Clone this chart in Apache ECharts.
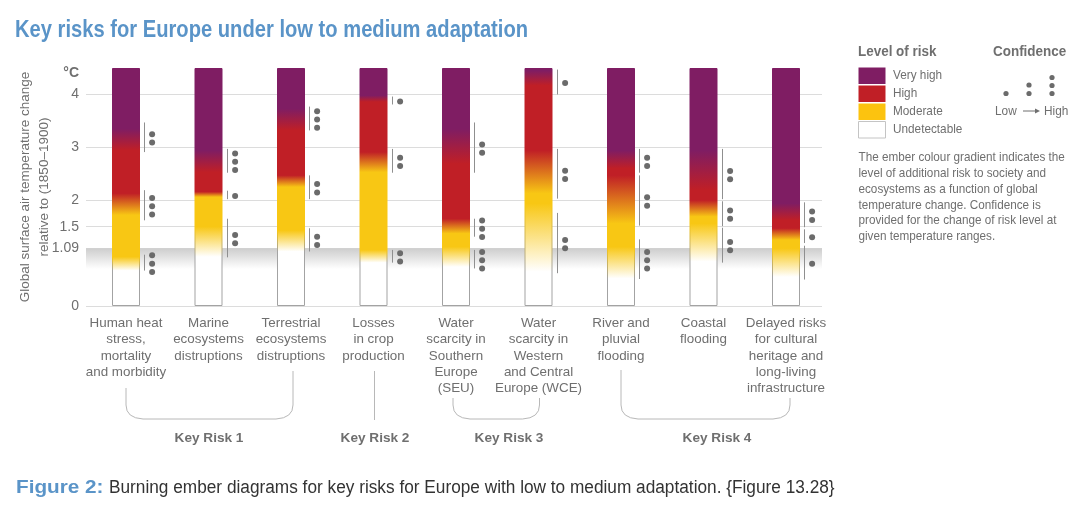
<!DOCTYPE html>
<html>
<head>
<meta charset="utf-8">
<style>
  html, body { margin: 0; padding: 0; background: #fff; }
  #chart { width: 1081px; height: 509px; }
</style>
<script src="https://cdn.jsdelivr.net/npm/echarts@6/dist/echarts.min.js"></script>
</head>
<body>
<div id="chart"></div>
<script>
const categories = [
  "Human heat\nstress,\nmortality\nand morbidity",
  "Marine\necosystems\ndistruptions",
  "Terrestrial\necosystems\ndistruptions",
  "Losses\nin crop\nproduction",
  "Water\nscarcity in\nSouthern\nEurope\n(SEU)",
  "Water\nscarcity in\nWestern\nand Central\nEurope (WCE)",
  "River and\npluvial\nflooding",
  "Coastal\nflooding",
  "Delayed risks\nfor cultural\nheritage and\nlong-living\ninfrastructure"
];
const yTicks = [0, 1.09, 1.5, 2, 3, 4];
const emberTop = [4.5, 4.5, 4.5, 4.5, 4.5, 4.5, 4.5, 4.5, 4.5];

// Temperatures (degC) where each ember changes colour
const whiteEnd    = [0.67, 0.93, 1.03, 0.82, 0.74, 0.65, 0.52, 0.84, 0.55];
const yellowStart = [0.93, 1.50, 1.43, 1.06, 1.12, 1.94, 1.12, 1.56, 1.09];
const yellowEnd   = [1.72, 2.06, 2.25, 2.53, 1.37, 2.13, 1.56, 1.69, 1.25];
const redStart    = [2.13, 2.16, 2.47, 2.91, 1.65, 2.94, 2.47, 2.00, 1.47];
const redEnd      = [2.94, 2.53, 3.32, 3.86, 2.69, 4.17, 2.60, 2.19, 1.62];
const purpleStart = [3.35, 2.94, 3.73, 3.98, 3.35, 4.45, 2.94, 2.94, 1.94];

// Confidence ranges: ember index, low, high, number of dots
const confEmber = [0, 0, 0, 1, 1, 1, 2, 2, 2, 3, 3, 3, 4, 4, 4, 5, 5, 5, 6, 6, 6, 7, 7, 7, 8, 8, 8];
const confLow   = [0.67, 1.62, 2.91, 0.92, 2.02, 2.52, 1.03, 2.02, 3.32, 0.82, 2.52, 3.81, 0.71, 1.31, 2.52, 0.62, 2.03, 4.00, 0.51, 1.52, 2.52, 0.82, 1.51, 2.02, 0.50, 1.19, 1.49];
const confHigh  = [0.97, 2.19, 3.47, 1.65, 2.18, 2.97, 1.47, 2.47, 3.77, 1.06, 2.97, 3.96, 1.06, 1.65, 3.47, 1.76, 2.97, 4.47, 1.26, 2.47, 2.97, 1.48, 1.98, 2.97, 1.14, 1.45, 1.96];
const confDots  = [3, 3, 2, 2, 1, 3, 2, 2, 3, 2, 2, 1, 3, 3, 2, 2, 2, 1, 3, 2, 2, 2, 2, 2, 1, 1, 2];

const riskLevels = ["Very high", "High", "Moderate", "Undetectable"];
const note = [
  "The ember colour gradient indicates the",
  "level of additional risk to society and",
  "ecosystems as a function of global",
  "temperature change. Confidence is",
  "provided for the change of risk level at",
  "given temperature ranges."
];

const PURPLE = "#7f1d63", RED = "#c01f26", YELLOW = "#f8c714", WHITE = "#ffffff";
const GREY = "#6f6f6f", DOT = "#6b6b6b", FRAME = "#a3a3a3", LINE = "#dcdcdc", BRACE = "#b8b8b8", BLUE = "#5a94c8";
const FONT = '"Liberation Sans", Arial, sans-serif';
const Y_MAX = 4.5;

function emberStops(i) {
  let at = t => 1 - t / Y_MAX;
  return [
    {offset: 0, color: PURPLE},
    {offset: at(purpleStart[i]), color: PURPLE},
    {offset: at(redEnd[i]), color: RED},
    {offset: at(redStart[i]), color: RED},
    {offset: at(yellowEnd[i]), color: YELLOW},
    {offset: at(yellowStart[i]), color: YELLOW},
    {offset: at(whiteEnd[i]), color: WHITE},
    {offset: 1, color: WHITE}
  ];
}

// Side lines follow the ember colour, and go grey only under the white part
function frameStops(i) {
  let stops = emberStops(i).slice(0, 6);
  let cut = 1 - whiteEnd[i] / Y_MAX;
  return stops.concat([{offset: cut, color: FRAME}, {offset: 1, color: FRAME}]);
}

function vertical(stops) {
  return {type: "linear", x: 0, y: 0, x2: 0, y2: 1, colorStops: stops};
}

function renderConfidence(params, api) {
  let low = api.coord([api.value(0), api.value(1)]);
  let high = api.coord([api.value(0), api.value(2)]);
  let n = api.value(3);
  let x = Math.round(low[0] + 18) + 0.5;
  let mid = (low[1] + high[1]) / 2 + 1;
  let children = [{
    type: "line",
    shape: {x1: x, y1: low[1], x2: x, y2: high[1]},
    style: {stroke: "#8f8f8f", lineWidth: 1}
  }];
  for (let k = 0; k < n; k++) {
    children.push({
      type: "circle",
      shape: {cx: x + 7.6, cy: mid + (k - (n - 1) / 2) * 8.3, r: 3},
      style: {fill: DOT}
    });
  }
  return {type: "group", children: children};
}

// scale squeezes or widens a text horizontally, from its left edge
function txt(text, x, y, size, extra, scale) {
  return {
    type: "text", x: x, y: y, silent: true, scaleX: scale || 1,
    style: Object.assign({text: text, fill: GREY, font: size + "px " + FONT, verticalAlign: "middle"}, extra || {})
  };
}

function bold(text, x, y, size, align, scale) {
  return txt(text, x, y, size, {font: "bold " + size + "px " + FONT, align: align || "left"}, scale);
}

function seg(x1, y1, x2, y2) {
  return {type: "line", shape: {x1, y1, x2, y2}, style: {stroke: BRACE, lineWidth: 1}, silent: true};
}

// Rounded bracket joining the ember labels to a key risk
function brace(x1, top1, x2, top2, bottom) {
  let r = 14;
  return [
    seg(x1, top1, x1, bottom - r),
    {type: "bezierCurve", silent: true, shape: {x1: x1, y1: bottom - r, cpx1: x1, cpy1: bottom - 1, x2: x1 + r + 3, y2: bottom}, style: {stroke: BRACE, lineWidth: 1, fill: null}},
    seg(x1 + r + 3, bottom, x2 - r - 3, bottom),
    {type: "bezierCurve", silent: true, shape: {x1: x2 - r - 3, y1: bottom, cpx1: x2, cpy1: bottom - 1, x2: x2, y2: bottom - r}, style: {stroke: BRACE, lineWidth: 1, fill: null}},
    seg(x2, bottom - r, x2, top2)
  ];
}

function dots(x, ys) {
  return ys.map(y => ({type: "circle", silent: true, shape: {cx: x, cy: y, r: 2.6}, style: {fill: DOT}}));
}

function legendParts() {
  let parts = [];
  let cols = [PURPLE, RED, "#fcc30f", WHITE];
  riskLevels.forEach((name, i) => {
    parts.push({
      type: "rect", silent: true,
      shape: {x: 858.5, y: 67.5 + i * 18, width: 27, height: 16.5},
      style: {fill: cols[i], stroke: i === 3 ? "#c4c4c4" : null, lineWidth: 1}
    });
    parts.push(txt(name, 893, 75.5 + i * 18, 12.8, null, 0.92));
  });
  parts.push(bold("Level of risk", 858, 52, 14, "left", 0.96));
  parts.push(bold("Confidence", 993, 52, 14, "left", 0.96));
  parts.push(...dots(1006, [93.5]), ...dots(1029, [85, 93.5]), ...dots(1052, [77.5, 85.5, 93.5]));
  parts.push(txt("Low", 995, 111, 13, null, 0.91));
  parts.push(seg(1023, 111, 1036, 111));
  parts[parts.length - 1].style.stroke = GREY;
  parts.push({type: "polygon", silent: true, shape: {points: [[1035, 108.5], [1040, 111], [1035, 113.5]]}, style: {fill: GREY}});
  parts.push(txt("High", 1044, 111, 13, null, 0.91));
  note.forEach((line, i) => parts.push(txt(line, 858.5, 158 + i * 15.8, 11.9, null, 0.985)));
  return parts;
}

let chart = echarts.init(document.getElementById("chart"), null, {renderer: "canvas"});
chart.setOption({
  animation: false,
  backgroundColor: "#fff",
  grid: [
    {left: 86, right: 259, top: 68, bottom: 203, outerBoundsMode: "none"},
    {left: 84.75, width: 742.5, top: 68, bottom: 203, outerBoundsMode: "none"}
  ],
  xAxis: [
    {gridIndex: 0, type: "value", min: 0, max: 1, show: false},
    {
      gridIndex: 1, type: "category", data: categories,
      axisLine: {show: false}, axisTick: {show: false},
      axisLabel: {interval: 0, margin: 9, color: GREY, fontFamily: FONT, fontSize: 13.4, lineHeight: 16.4, verticalAlign: "top", overflow: "none"}
    }
  ],
  yAxis: [
    {
      gridIndex: 0, type: "value", min: 0, max: Y_MAX,
      name: "Global surface air temperature change\nrelative to (1850\u20131900)",
      nameLocation: "middle", nameGap: 32, nameRotate: 90, nameMoveOverlap: false,
      nameTextStyle: {color: GREY, fontFamily: FONT, fontSize: 13.5, lineHeight: 19},
      axisLine: {show: false},
      axisTick: {show: false, customValues: yTicks},
      axisLabel: {
        customValues: yTicks, margin: 7, color: GREY, fontFamily: FONT, fontSize: 14, padding: [0, 0, 5, 0],
        formatter: v => String(v)
      },
      splitLine: {show: true, lineStyle: {color: LINE, width: 1}}
    },
    {gridIndex: 1, type: "value", min: 0, max: Y_MAX, show: false, splitLine: {show: false}}
  ],
  series: [
    {
      name: "observed", type: "line", xAxisIndex: 0, yAxisIndex: 0, data: [], z: 1, silent: true,
      markArea: {
        silent: true,
        itemStyle: {color: vertical([{offset: 0, color: "#cdcdcd"}, {offset: 1, color: "#ffffff"}])},
        data: [[{yAxis: 1.09}, {yAxis: 0.7}]]
      }
    },
    {
      name: "ember", type: "bar", xAxisIndex: 1, yAxisIndex: 1, barWidth: 28, z: 3, silent: true,
      data: emberTop.map((v, i) => ({
        value: v,
        itemStyle: {color: vertical(emberStops(i)), borderColor: vertical(frameStops(i)), borderWidth: 1}
      }))
    },
    {
      name: "confidence", type: "custom", xAxisIndex: 1, yAxisIndex: 1, z: 4, silent: true, clip: false,
      renderItem: renderConfidence,
      encode: {x: 0, y: [1, 2]},
      data: confEmber.map((e, i) => [e, confLow[i], confHigh[i], confDots[i]])
    }
  ],
  graphic: [
    txt("Key risks for Europe under low to medium adaptation", 15, 30, 24, {font: "bold 24px " + FONT, fill: BLUE}, 0.84),
    bold("\u00b0C", 79, 73, 14, "right"),
    ...brace(126, 388, 293, 371, 419),
    seg(374.5, 371, 374.5, 420),
    ...brace(453, 398, 539.5, 398, 419),
    ...brace(621, 370, 790, 398, 419),
    bold("Key Risk 1", 209, 438, 13.6, "center"),
    bold("Key Risk 2", 375, 438, 13.6, "center"),
    bold("Key Risk 3", 509, 438, 13.6, "center"),
    bold("Key Risk 4", 717, 438, 13.6, "center"),
    txt("Figure 2:", 16, 488, 19, {font: "bold 19px " + FONT, fill: BLUE}, 1.09),
    txt("Burning ember diagrams for key risks for Europe with low to medium adaptation. {Figure 13.28}", 109, 488, 18, {fill: "#333333"}, 0.958),
    ...legendParts()
  ]
});
</script>
</body>
</html>
